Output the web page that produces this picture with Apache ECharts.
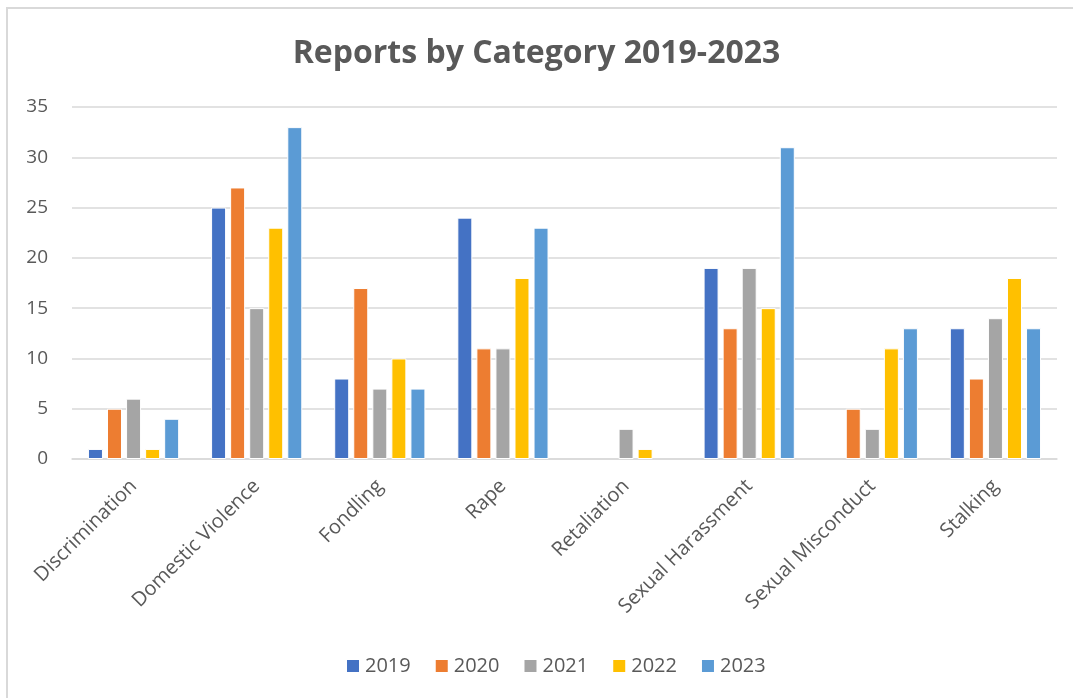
<!DOCTYPE html>
<html>
<head>
<meta charset="utf-8">
<script src="https://cdn.jsdelivr.net/npm/echarts@6/dist/echarts.min.js"></script>
<style>
html,body{margin:0;padding:0;background:#fff;}
#main{width:1073px;height:698px;}
</style>
</head>
<body>
<div id="main"></div>
<script>
const categories = ["Discrimination","Domestic Violence","Fondling","Rape","Retaliation","Sexual Harassment","Sexual Misconduct","Stalking"];
const years = ["2019","2020","2021","2022","2023"];
const v2019 = [1,25,8,24,null,19,null,13];
const v2020 = [5,27,17,11,null,13,5,8];
const v2021 = [6,15,7,11,3,19,3,14];
const v2022 = [1,23,10,18,1,15,11,18];
const v2023 = [4,33,7,23,null,31,13,13];
const yTicks = [0,5,10,15,20,25,30,35];
const colors = ["#4472C4","#ED7D31","#A5A5A5","#FFC000","#5B9BD5"];
const allValues = [v2019,v2020,v2021,v2022,v2023];

const chart = echarts.init(document.getElementById('main'));
const font = '"Open Sans", "DejaVu Sans", sans-serif';
chart.setOption({
  animation:false,
  title:{
    text:'Reports by Category 2019-2023',
    left:'center', top:33,
    textStyle:{fontFamily:font,fontSize:32,fontWeight:'bold',color:'#595959'}
  },
  graphic:[
    {type:'polyline',shape:{points:[[7,698],[7,8],[1073,8]]},style:{stroke:'#D9D9D9',lineWidth:2,fill:null},silent:true}
  ],
  legend:{
    data:years, bottom:17, left:340,
    itemWidth:14,itemHeight:14,itemGap:23,icon:'rect',
    textStyle:{fontFamily:font,fontSize:20,color:'#595959'}
  },
  grid:{left:72,right:16,top:107,bottom:239,containLabel:false},
  xAxis:{
    type:'category',data:categories,
    axisLine:{lineStyle:{color:'#D9D9D9',width:1.5}},
    axisTick:{show:false},
    axisLabel:{rotate:45,interval:0,fontFamily:font,fontSize:20,color:'#595959',margin:24}
  },
  yAxis:{
    type:'value',min:0,max:35,interval:5,
    axisLine:{show:false},axisTick:{show:false},
    splitLine:{lineStyle:{color:'#D9D9D9',width:1.5}},
    axisLabel:{fontFamily:font,fontSize:19,color:'#595959',margin:24,
      formatter:function(v){return yTicks.indexOf(v)>=0?String(v):'';}}
  },
  series: years.map((y,i)=>({
    name:y,type:'bar',data:allValues[i],
    barWidth:15,barGap:'27%',
    itemStyle:{color:colors[i],borderColor:'#fff',borderWidth:1}
  }))
});
</script>
</body>
</html>
